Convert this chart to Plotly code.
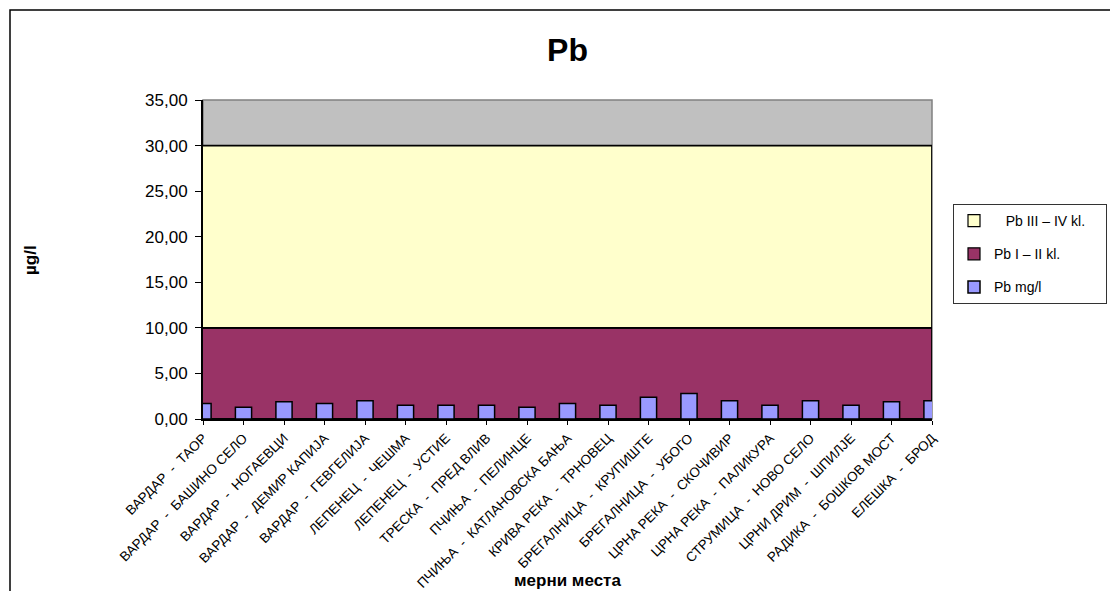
import plotly.graph_objects as go

# Monitoring stations (x categories)
stations = [
    "ВАРДАР  -  ТАОР",
    "ВАРДАР  -  БАШИНО СЕЛО",
    "ВАРДАР  -  НОГАЕВЦИ",
    "ВАРДАР  -  ДЕМИР КАПИЈА",
    "ВАРДАР  -  ГЕВГЕЛИЈА",
    "ЛЕПЕНЕЦ  -  ЧЕШМА",
    "ЛЕПЕНЕЦ  -  УСТИЕ",
    "ТРЕСКА  -  ПРЕД ВЛИВ",
    "ПЧИЊА  -  ПЕЛИНЦЕ",
    "ПЧИЊА  -  КАТЛАНОВСКА БАЊА",
    "КРИВА РЕКА  -  ТРНОВЕЦ",
    "БРЕГАЛНИЦА  -  КРУПИШТЕ",
    "БРЕГАЛНИЦА  -  УБОГО",
    "ЦРНА РЕКА  -  СКОЧИВИР",
    "ЦРНА РЕКА  -  ПАЛИКУРА",
    "СТРУМИЦА  -  НОВО СЕЛО",
    "ЦРНИ ДРИМ  -  ШПИЛЈЕ",
    "РАДИКА  -  БОШКОВ МОСТ",
    "ЕЛЕШКА  -  БРОД",
]

# Measured lead concentration per station
pb_measured = [1.7, 1.3, 1.9, 1.7, 2.0, 1.5, 1.5, 1.5, 1.3, 1.7,
               1.5, 2.4, 2.8, 2.0, 1.5, 2.0, 1.5, 1.9, 2.0]

# Water quality class bands (stacked): I-II up to 10, III-IV adds 20 more
class_I_II = [10, 10, 10, 10, 10, 10, 10, 10, 10, 10,
              10, 10, 10, 10, 10, 10, 10, 10, 10]
class_III_IV = [20, 20, 20, 20, 20, 20, 20, 20, 20, 20,
                20, 20, 20, 20, 20, 20, 20, 20, 20]

y_ticks = [0, 5, 10, 15, 20, 25, 30, 35]

FONT = "Liberation Sans, Arial, sans-serif"
COL_I_II = "#993366"
COL_III_IV = "#FFFFCC"
COL_PB = "#9999FF"

NAME_I_II = "Pb I – II kl."
NAME_III_IV = "\u00a0\u00a0\u00a0Pb III – IV kl.\u00a0\u00a0\u00a0\u00a0"

positions = list(range(len(stations)))
n = len(positions)
band1_top = class_I_II
band2_top = [a + b for a, b in zip(class_I_II, class_III_IV)]

fig = go.Figure()

# Lower band as a closed polygon along the category axis
fig.add_trace(go.Scatter(
    x=positions + positions[::-1],
    y=band1_top + [0] * n,
    fill="toself", mode="lines",
    fillcolor=COL_I_II, line=dict(color="black", width=1.8),
    showlegend=False, hoverinfo="skip",
))

# Upper band stacked on the lower one
fig.add_trace(go.Scatter(
    x=positions + positions[::-1],
    y=band2_top + band1_top[::-1],
    fill="toself", mode="lines",
    fillcolor=COL_III_IV, line=dict(color="black", width=1.8),
    showlegend=False, hoverinfo="skip",
))

# Square legend swatches for the two bands
fig.add_trace(go.Bar(
    x=[None], y=[None], name=NAME_III_IV,
    marker=dict(color=COL_III_IV, line=dict(color="black", width=1.2)),
    legendgroup="a", legendrank=1, hoverinfo="skip",
))
fig.add_trace(go.Bar(
    x=[None], y=[None], name=NAME_I_II,
    marker=dict(color=COL_I_II, line=dict(color="black", width=1.2)),
    legendgroup="b", legendrank=2, hoverinfo="skip",
))

# Measured values as bars on an overlay axis so they sit above the bands
fig.add_trace(go.Bar(
    x=positions, y=pb_measured,
    xaxis="x2", yaxis="y2",
    width=0.4,
    marker=dict(color=COL_PB, line=dict(color="black", width=1.5)),
    name="Pb mg/l", legendgroup="c", legendrank=3,
))

x_range = [0, n - 1]
y_range = [0, 35]

fig.update_layout(
    width=1110, height=591,
    margin=dict(l=203, r=178, t=100, b=172, autoexpand=False),
    paper_bgcolor="white",
    plot_bgcolor="#C0C0C0",
    separators=",.",
    showlegend=True,
    font=dict(family=FONT, color="black"),
    title=dict(
        text="<b>Pb</b>", x=0.5, xref="paper", y=1 - 50 / 591, yanchor="middle",
        font=dict(family=FONT, size=32, color="black"),
    ),
    xaxis=dict(
        range=x_range, tickmode="array", tickvals=positions, ticktext=stations,
        tickangle=-45, tickfont=dict(family=FONT, size=13.5, color="black"),
        ticks="outside", ticklen=4, tickcolor="black",
        showline=True, linecolor="black", linewidth=2,
        showgrid=False, zeroline=False, automargin=False,
    ),
    yaxis=dict(
        range=y_range, tickmode="array", tickvals=y_ticks, tickformat=".2f",
        tickfont=dict(family=FONT, size=17, color="black"),
        ticks="outside", ticklen=6, tickcolor="black", ticklabelstandoff=4,
        showline=True, linecolor="black", linewidth=2,
        showgrid=False, zeroline=False, automargin=False,
    ),
    xaxis2=dict(range=x_range, overlaying="x", visible=False),
    yaxis2=dict(range=y_range, overlaying="y", visible=False),
    legend=dict(
        x=(953 - 203) / 729, y=(419 - 204) / 319, xanchor="left", yanchor="top",
        bgcolor="white", bordercolor="#333333", borderwidth=1,
        font=dict(family=FONT, size=14, color="black"),
        traceorder="grouped", tracegroupgap=12, itemwidth=30,
    ),
    shapes=[
        # plot-area frame (grey top/right edges)
        dict(type="rect", xref="paper", yref="paper", x0=0, x1=1, y0=0, y1=1,
             line=dict(color="#808080", width=1.5), layer="below"),
        # outer chart frame
        dict(type="rect", xref="paper", yref="paper",
             x0=(10 - 203) / 729, x1=(1130 - 203) / 729,
             y0=(419 - 620) / 319, y1=(419 - 10) / 319,
             line=dict(color="black", width=1.5)),
    ],
    annotations=[
        dict(text="<b>мерни места</b>", xref="paper", yref="paper",
             x=0.5, y=(419 - 580) / 319, xanchor="center", yanchor="middle",
             showarrow=False, font=dict(family=FONT, size=17, color="black")),
        dict(text="<b>µg/l</b>", xref="paper", yref="paper",
             x=(30 - 203) / 729, y=(419 - 260) / 319, xanchor="center", yanchor="middle",
             textangle=-90, showarrow=False,
             font=dict(family=FONT, size=17, color="black")),
    ],
)

fig.write_html("out.html")
